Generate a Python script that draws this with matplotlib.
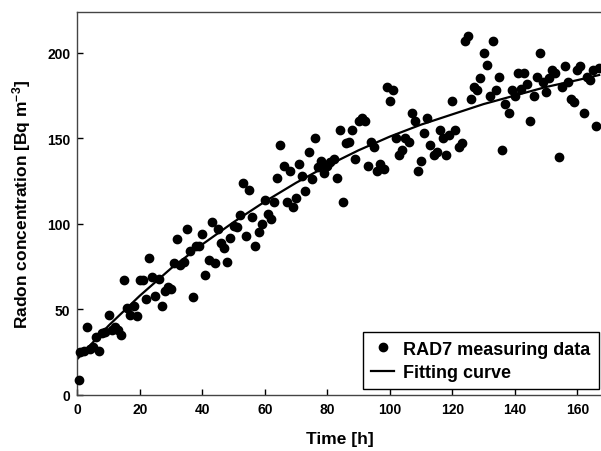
import numpy as np
import matplotlib
matplotlib.use('Agg')
import matplotlib.pyplot as plt

plt.rcParams['font.family'] = ['Liberation Sans', 'DejaVu Sans']
plt.rcParams['font.weight'] = 'bold'
plt.rcParams['mathtext.fontset'] = 'custom'
plt.rcParams['mathtext.rm'] = 'Liberation Sans:bold'
plt.rcParams['mathtext.it'] = 'Liberation Sans:bold'
plt.rcParams['mathtext.bf'] = 'Liberation Sans:bold'

time_h = [0.5, 1, 2, 3, 4, 5, 6, 7, 8, 9, 10, 11, 12, 13, 14, 15, 16, 17, 18, 19,
          20, 21, 22, 23, 24, 25, 26, 27, 28, 29, 30, 31, 32, 33, 34, 35, 36, 37, 38, 39,
          40, 41, 42, 43, 44, 45, 46, 47, 48, 49, 50, 51, 52, 53, 54, 55, 56, 57, 58, 59,
          60, 61, 62, 63, 64, 65, 66, 67, 68, 69, 70, 71, 72, 73, 74, 75, 76, 77, 78, 79,
          80, 81, 82, 83, 84, 85, 86, 87, 88, 89, 90, 91, 92, 93, 94, 95, 96, 97, 98, 99,
          100, 101, 102, 103, 104, 105, 106, 107, 108, 109, 110, 111, 112, 113, 114, 115,
          116, 117, 118, 119, 120, 121, 122, 123, 124, 125, 126, 127, 128, 129, 130, 131,
          132, 133, 134, 135, 136, 137, 138, 139, 140, 141, 142, 143, 144, 145, 146, 147,
          148, 149, 150, 151, 152, 153, 154, 155, 156, 157, 158, 159, 160, 161, 162, 163,
          164, 165, 166, 167]
radon = [9, 25, 26, 40, 27, 28, 34, 26, 36, 37, 47, 38, 40, 38, 35, 67, 51, 47, 52, 46,
         67, 67, 56, 80, 69, 58, 68, 52, 61, 63, 62, 77, 91, 76, 78, 97, 84, 57, 87, 87,
         94, 70, 79, 101, 77, 97, 89, 86, 78, 92, 99, 98, 105, 124, 93, 120, 104, 87, 95, 100,
         114, 106, 103, 113, 127, 146, 134, 113, 131, 110, 115, 135, 128, 119, 142, 126, 150, 133, 137, 130,
         134, 136, 138, 127, 155, 113, 147, 148, 155, 138, 160, 162, 160, 134, 148, 145, 131, 135, 132, 180,
         172, 178, 150, 140, 143, 150, 148, 165, 160, 131, 137, 153, 162, 146, 140, 142,
         155, 150, 140, 152, 172, 155, 145, 147, 207, 210, 173, 180, 178, 185, 200, 193,
         175, 207, 178, 186, 143, 170, 165, 178, 175, 188, 179, 188, 182, 160, 175, 186,
         200, 183, 177, 185, 190, 188, 139, 180, 192, 183, 173, 171, 190, 192, 165, 186,
         184, 190, 157, 191]

# fitting curve
fit_t = [0, 10, 20, 30, 40, 50, 60, 70, 80, 90, 100, 110, 120, 130, 140, 150, 160, 167]
fit_y = [21, 40.5, 58, 74, 88, 101, 113, 124, 134, 143, 151, 158, 164, 170, 175, 180, 184, 187]

fig = plt.figure(figsize=(6.01, 4.52), dpi=100)
ax = fig.add_axes([0.1286, 0.1239, 0.8735, 0.848])

ax.plot(time_h, radon, 'o', color='black', markersize=6, label='RAD7 measuring data',
        clip_on=False, zorder=3)
ax.plot(fit_t, fit_y, '-', color='black', linewidth=1.6, label='Fitting curve')

ax.set_xlim(0, 168)
ax.set_ylim(0, 224)
ax.set_xticks([0, 20, 40, 60, 80, 100, 120, 140, 160])
ax.set_yticks([0, 50, 100, 150, 200])
ax.tick_params(direction='in', length=4, width=1, labelsize=10, pad=5)
for s in ax.spines.values():
    s.set_color('#444444')
    s.set_linewidth(1)

ax.set_xlabel('Time [h]', fontsize=12.5, fontweight='bold', labelpad=11)
ax.set_ylabel('Radon concentration [Bq m$^{-3}$]', fontsize=12.5, fontweight='bold', labelpad=10)

leg = ax.legend(loc='lower left', bbox_to_anchor=(0.544, 0.0157), fontsize=13,
                frameon=True, fancybox=False, edgecolor='black', framealpha=1,
                borderpad=0.45, borderaxespad=0, handlelength=1.3, handletextpad=0.5,
                labelspacing=0.35)
leg.get_frame().set_linewidth(1)

fig.savefig('out.png', dpi=100)
